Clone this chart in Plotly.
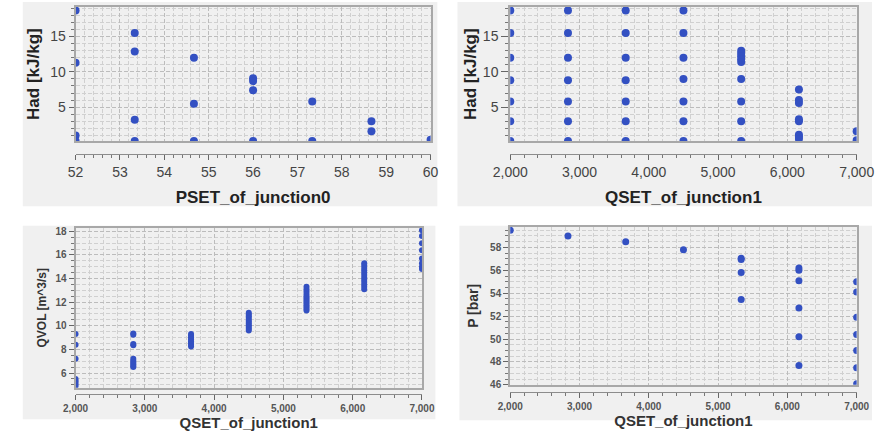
import plotly.graph_objects as go

W, H = 890, 436

# ---------------- data ----------------
pset = [52, 53.333, 54.667, 56, 57.333, 58.667, 60]
p1_had = [
    [18.7, 11.3, 1.0, 0.2],
    [15.5, 12.9, 3.2, 0.2],
    [12.0, 5.5, 0.2],
    [9.1, 8.7, 7.4, 0.2],
    [5.8, 0.2],
    [3.0, 1.6],
    [0.4],
]

qset = [2000, 2833.3, 3666.7, 4500, 5333.3, 6166.7, 7000]
p2_had = [
    [18.7, 15.5, 12.0, 8.8, 5.8, 3.0, 0.2],
    [18.7, 15.5, 12.0, 8.8, 5.8, 3.0, 0.2],
    [18.7, 15.5, 12.0, 8.8, 5.8, 3.0, 0.2],
    [18.7, 15.5, 12.0, 9.0, 5.8, 3.0, 0.2],
    [13.0, 12.6, 12.2, 11.8, 11.4, 9.0, 5.8, 3.0, 0.2],
    [7.5, 6.0, 5.6, 3.3, 3.0, 1.1, 0.8, 0.5],
    [1.6, 0.3],
]
p3_qvol = [
    [9.3, 8.4, 7.2, 5.5, 5.3, 5.1, 4.9],
    [9.35, 9.25, 8.45, 8.35, 7.2, 7.05, 6.9, 6.75, 6.6, 6.5],
    [9.3, 9.15, 9.0, 8.85, 8.7, 8.55, 8.4, 8.25],
    [11.1, 10.95, 10.8, 10.65, 10.5, 10.35, 10.2, 10.05, 9.9, 9.75, 9.6],
    [13.3, 13.1, 12.9, 12.7, 12.5, 12.35, 12.2, 12.05, 11.9, 11.75, 11.6, 11.45, 11.3],
    [15.3, 15.1, 14.9, 14.7, 14.5, 14.3, 14.1, 13.9, 13.7, 13.5, 13.3, 13.1],
    [18.1, 17.6, 17.0, 16.4, 15.7, 15.3, 15.0, 14.8],
]
p4_p = [
    [59.5],
    [59.0],
    [58.5],
    [57.8],
    [57.05, 56.95, 55.8, 53.45],
    [56.2, 56.0, 55.1, 52.7, 50.2, 47.7],
    [55.0, 54.1, 51.9, 50.4, 49.0, 47.5, 46.1],
]


def flatten(xs, groups):
    fx, fy = [], []
    for x, g in zip(xs, groups):
        for v in g:
            fx.append(x)
            fy.append(v)
    return fx, fy


BLUE = "#3350c2"
FONT = "Liberation Sans"

fig = go.Figure()

panels = [
    (pset, p1_had, 8, "x", "y"),
    (qset, p2_had, 8, "x2", "y2"),
    (qset, p3_qvol, 6, "x3", "y3"),
    (qset, p4_p, 7, "x4", "y4"),
]
for xs, groups, size, xa, ya in panels:
    fx, fy = flatten(xs, groups)
    fig.add_trace(go.Scatter(x=fx, y=fy, mode="markers", xaxis=xa, yaxis=ya,
                             marker=dict(color=BLUE, size=size, line=dict(width=0)),
                             cliponaxis=True, showlegend=False, hoverinfo="skip"))
# empty traces binding the offset tick axes
for xa, ya in [("x5", "y"), ("x6", "y2"), ("x7", "y3"), ("x8", "y4")]:
    fig.add_trace(go.Scatter(x=[None], y=[None], mode="markers", xaxis=xa, yaxis=ya,
                             showlegend=False, hoverinfo="skip"))


def px_dom_x(a, b):
    return [a / W, b / W]


def px_dom_y(top, bottom):
    return [1 - bottom / H, 1 - top / H]


GRID = dict(showgrid=True, gridcolor="#bcbcbc", griddash="4px,2px", gridwidth=1)
MGRID = dict(showgrid=True, gridcolor="#d0d0d0", griddash="4px,2px", gridwidth=1)


def yaxis(domain, rng, dtick, minor_dtick, title, tfont, titlefont, anchor, standoff=6, ticklen=5):
    return dict(
        domain=domain, range=rng, dtick=dtick, tick0=0, anchor=anchor,
        showline=True, linecolor="#a8a8a8", linewidth=2, mirror=True,
        ticks="outside", ticklen=ticklen, tickwidth=1, tickcolor="#666666",
        zeroline=False, tickfont=tfont,
        title=dict(text=title, font=titlefont, standoff=standoff),
        minor=dict(dtick=minor_dtick, ticks="outside", ticklen=3, tickcolor="#777777", **MGRID),
        **GRID,
    )


def xgrid(domain, rng, dtick, minor_dtick, anchor):
    # grid + frame only
    return dict(
        domain=domain, range=rng, dtick=dtick, tick0=0, anchor=anchor,
        showline=True, linecolor="#a8a8a8", linewidth=2, mirror=True,
        ticks="", showticklabels=False, zeroline=False,
        minor=dict(dtick=minor_dtick, **MGRID),
        **GRID,
    )


def xticks(domain, rng, dtick, minor_dtick, pos_px, title, tfont, titlefont, overlay, tickformat=None, standoff=6):
    d = dict(
        domain=domain, range=rng, dtick=dtick, tick0=0, anchor="free", overlaying=overlay,
        position=1 - pos_px / H,
        showline=True, linecolor="#8c8c8c", linewidth=1,
        ticks="outside", ticklen=5, tickwidth=1, tickcolor="#666666",
        showgrid=False, zeroline=False, tickfont=tfont,
        title=dict(text=title, font=titlefont, standoff=standoff),
        minor=dict(dtick=minor_dtick, ticks="outside", ticklen=3, tickcolor="#777777", showgrid=False),
    )
    if tickformat:
        d["tickformat"] = tickformat
    return d


top_tick = dict(family=FONT, size=14, color="#444444")
top_title = dict(family=FONT, size=17, color="#222222", weight="bold")
bot_tick = dict(family=FONT, size=10, color="#555555", weight="bold")
bot_title = dict(family=FONT, size=15, color="#333333", weight="bold")

D1x = px_dom_x(60, 430)
D2x = px_dom_x(513, 874)
D3x = px_dom_x(60, 421)
D4x = px_dom_x(513, 874)

fig.update_layout(
    width=W, height=H, margin=dict(l=0, r=0, t=0, b=0),
    paper_bgcolor="white", plot_bgcolor="white",
    xaxis=xgrid(D1x, [52, 60], 1, 0.2, "y"),
    xaxis2=xgrid(D2x, [2000, 7000], 1000, 200, "y2"),
    xaxis3=xgrid(D3x, [2000, 7000], 1000, 200, "y3"),
    xaxis4=xgrid(D4x, [2000, 7000], 1000, 200, "y4"),
    xaxis5=xticks(D1x, [52, 60], 1, 0.2, 155, "PSET_of_junction0", top_tick, top_title, "x", standoff=12),
    xaxis6=xticks(D2x, [2000, 7000], 1000, 200, 155, "QSET_of_junction1", top_tick, top_title, "x2", ",d", standoff=12),
    xaxis7=xticks(D3x, [2000, 7000], 1000, 200, 399, "QSET_of_junction1", bot_tick, bot_title, "x3", ",d", standoff=4),
    xaxis8=xticks(D4x, [2000, 7000], 1000, 200, 397, "QSET_of_junction1", bot_tick, bot_title, "x4", ",d", standoff=4),
    yaxis=yaxis(px_dom_y(5, 142), [0.15, 19.2], 5, 1, "Had [kJ/kg]", top_tick, top_title, "x", standoff=6),
    yaxis2=yaxis(px_dom_y(5, 142), [0.15, 19.2], 5, 1, "Had [kJ/kg]", top_tick, top_title, "x2", standoff=2, ticklen=7),
    yaxis3=yaxis(px_dom_y(230, 393), [4.75, 18.3], 2, 0.5, "QVOL [m^3/s]", bot_tick, dict(family=FONT, size=12, color="#333333", weight="bold"), "x3", standoff=6),
    yaxis4=yaxis(px_dom_y(229, 390), [46.0, 59.8], 2, 0.5, "P [bar]", bot_tick, dict(family=FONT, size=14, color="#333333", weight="bold"), "x4", standoff=8),
)

# light gray panel backgrounds
boxes = [(5, 0, 437, 208), (458, 0, 890, 208), (5, 228, 435, 425), (460, 228, 890, 426)]
for bx0, by0, bx1, by1 in boxes:
    fig.add_shape(type="rect", xref="paper", yref="paper", layer="below",
                  x0=bx0 / W, x1=bx1 / W, y0=1 - by1 / H, y1=1 - by0 / H,
                  fillcolor="#f0f0f0", line=dict(width=0))

fig.write_html("out.html")
